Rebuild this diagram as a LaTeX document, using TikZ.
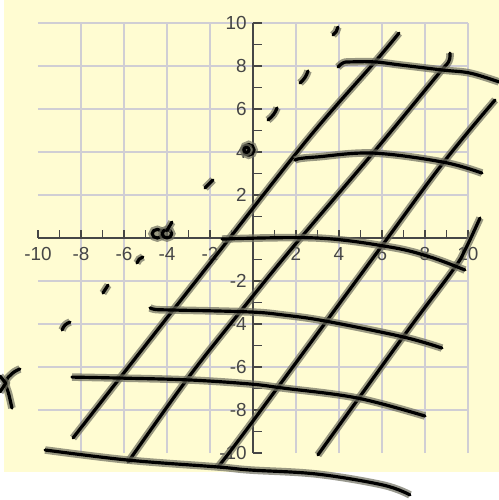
\documentclass[tikz,border=0pt]{standalone}
\usepackage{fontspec}
\setmainfont{Liberation Sans}
\definecolor{paper}{RGB}{255,252,210}
\definecolor{gridgray}{RGB}{208,206,212}
\definecolor{axisgray}{RGB}{70,70,70}
\definecolor{inkhalo}{RGB}{110,110,95}

\begin{document}
\begin{tikzpicture}[
    x=0.5cm, y=0.5cm,
    gridline/.style={draw=gridgray, line width=1pt},
    axis/.style={draw=axisgray, line width=1pt},
    ticklabel/.style={font=\fontsize{12.5}{14}\selectfont, text=axisgray, inner sep=0pt},
    ink/.style={line width=2.1pt, line cap=round, line join=round,
        preaction={draw=inkhalo, line width=5pt, opacity=0.7}}
]
    \useasboundingbox (-11.767,-12.186) rectangle (11.442,11.07);
    \fill[paper] (-11.58,-10.884) rectangle (11.442,11.07);

    % grid and axes
    \draw[gridline] (-10,-10) grid (10,10);
    \draw[axis] (-10,0) -- (10,0);
    \draw[axis] (0,-10) -- (0,10);
    \foreach \t in {-10,...,10} {
        \draw[axis] (\t,0) -- (\t,0.38);
        \draw[axis] (0,\t) -- (0.42,\t);
    }
    \foreach \t in {-10,-8,...,-2,2,4,...,10} {
        \node[ticklabel, anchor=north] (xl\t) at (\t,-0.42) {\t};
        \node[ticklabel, anchor=east] (yl\t) at (-0.28,\t) {\t};
    }

    % slanted strokes
    \draw[ink] plot[smooth, tension=0.6] coordinates {(-8.37,-9.3) (-4.5,-4.35) (-1.77,-0.88) (2.51,4.56) (5.67,8.19) (6.79,9.53)};
    \draw[ink] plot[smooth, tension=0.6] coordinates {(-5.81,-10.42) (-3.02,-6.51) (-0.6,-3.44) (1.86,-0.42) (5.58,3.95) (8.6,7.6) (9.1,8.2) (9.16,8.6)};
    \draw[ink] plot[smooth, tension=0.6] coordinates {(-1.63,-10.65) (-0.14,-8.7) (5.58,-0.93) (8.84,3.49) (11.26,6.42)};
    \draw[ink] plot[smooth, tension=0.6] coordinates {(3.02,-10.09) (6.98,-4.6) (9.3,-1.49) (9.86,-0.56) (10.56,0.93)};

    % level strokes
    \draw[ink] plot[smooth, tension=0.6] coordinates {(3.95,7.95) (4.2,8.15) (4.51,8.19) (5.67,8.19) (6.84,8.05) (8.84,7.81) (10.1,7.67) (11.44,7.26)};
    \draw[ink] plot[smooth, tension=0.6] coordinates {(1.95,3.62) (2.2,3.7) (2.98,3.77) (5.58,3.95) (8.84,3.53) (10.65,3.02)};
    \draw[ink] plot[smooth, tension=0.6] coordinates {(-1.44,-0.05) (2.98,0) (6.37,-0.42) (8.23,-0.88) (9.86,-1.49)};
    \draw[ink] plot[smooth, tension=0.6] coordinates {(-4.79,-3.25) (-4.5,-3.33) (-3.72,-3.35) (-0.14,-3.44) (1.4,-3.58) (3.35,-3.86) (6.98,-4.6) (8.79,-5.12)};
    \draw[ink] plot[smooth, tension=0.6] coordinates {(-8.42,-6.47) (-6.42,-6.51) (-3.02,-6.6) (-0.14,-6.79) (1.4,-6.98) (4.84,-7.44) (8.0,-8.28)};
    \draw[ink] plot[smooth, tension=0.6] coordinates {(-9.67,-9.86) (-5.81,-10.33) (-1.63,-10.65) (-0.14,-10.79) (2.98,-10.98) (6.05,-11.49) (7.3,-11.95)};

    % dashes and dots
    \draw[ink] (-8.88,-4.28) to[bend left=25] (-8.51,-3.91);
    \draw[ink] (-6.98,-2.56) -- (-6.74,-2.19);
    \draw[ink] (-5.4,-1.16) to[bend left=25] (-5.12,-0.88);
    \draw[ink] (-4.45,0.2) ellipse (0.24 and 0.2);
    \draw[ink] (-4.0,0.2) ellipse (0.22 and 0.2);
    \draw[ink] (-4.0,0.35) -- (-3.77,0.74);
    \draw[ink] (-2.23,2.33) -- (-1.86,2.7);
    \draw[ink] (-0.2,4.1) circle (0.25);
    \draw[ink] (-0.3,4.1) circle (0.12);
    \draw[ink] (0.7,5.49) to[bend right=15] (1.12,6.05);
    \draw[ink] (2.19,7.21) to[bend right=15] (2.56,7.77);
    \draw[ink] (3.72,9.44) to[bend right=20] (3.95,9.81);

    % mark at left edge
    \draw[ink] plot[smooth, tension=0.7] coordinates {(-10.84,-6.09) (-11.2,-6.3) (-11.49,-6.7) (-11.35,-7.3) (-11.21,-7.91)};
    \draw[ink] (-11.77,-6.42) -- (-11.5,-6.75) -- (-11.77,-7.16);
\end{tikzpicture}
\end{document}
